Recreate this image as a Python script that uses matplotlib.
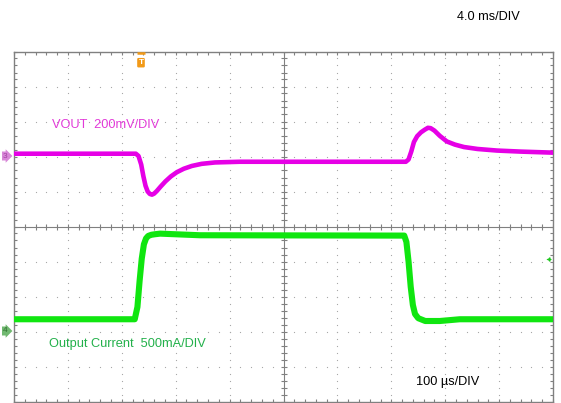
import matplotlib
matplotlib.use("Agg")
import matplotlib.pyplot as plt
import numpy as np

# scope settings
time_per_div = 100.0      # us/DIV
vout_per_div = 200.0      # mV/DIV
iout_per_div = 500.0      # mA/DIV
vout_ref_div = 1.99       # channel 3 marker (div from centre)
iout_ref_div = -2.96      # channel 4 marker

# VOUT deviation (mV)
vout_t = [0, 226, 231, 236, 240, 244, 248, 252, 256, 260, 265, 272, 281, 291,
          302, 315, 330, 348, 373, 419, 531, 727, 732, 737, 742, 748, 755, 762,
          768, 773, 780, 790, 803, 818, 835, 860, 896, 940, 1000]
vout_mv = [18, 18, 5, -44, -110, -165, -198, -212, -216, -210, -195, -170, -140,
           -112, -88, -68, -52, -40, -32, -28, -28, -28, -15, 30, 85, 118, 140,
           155, 166, 164, 150, 120, 88, 70, 56, 45, 36, 30, 24]

# output current (mA)
iout_t = [0, 224, 229, 233, 237, 241, 245, 249, 255, 262, 271, 345, 724, 728,
          732, 736, 740, 744, 750, 763, 790, 827, 1000]
iout_ma = [155, 155, 330, 700, 1020, 1225, 1310, 1345, 1362, 1370, 1378, 1355,
           1350, 1260, 980, 620, 360, 230, 170, 130, 130, 155, 155]

plt.rcParams['font.family'] = ['Liberation Sans', 'DejaVu Sans']

W, H = 561, 403
fig = plt.figure(figsize=(W / 100, H / 100), dpi=100)
ax = fig.add_axes([14 / W, 1 - 401.5 / H, 539 / W, 350 / H])
ax.set_xlim(0, 10)
ax.set_ylim(-5, 5)

grid_c = '#a8a8a8'
frame_c = '#808080'

# dotted graticule
minor = np.arange(0, 10.001, 0.2)
for g in range(1, 10):
    if g == 5:
        continue
    ax.plot([g] * len(minor), minor - 5, ls='none', marker='s', ms=0.8,
            color=grid_c, mew=0)
    ax.plot(minor, [g - 5] * len(minor), ls='none', marker='s', ms=0.8,
            color=grid_c, mew=0)

# centre cross with ticks
ax.axhline(0, color=frame_c, lw=0.8)
ax.axvline(5, color=frame_c, lw=0.8)
ax.plot(minor, np.zeros_like(minor), ls='none', marker='|', ms=4,
        color=frame_c, mew=0.8)
ax.plot(np.full_like(minor, 5), minor - 5, ls='none', marker='_', ms=4,
        color=frame_c, mew=0.8)

for s in ax.spines.values():
    s.set_color(frame_c)
    s.set_linewidth(1.0)
ax.set_xticks(minor)
ax.set_yticks(minor - 5)
ax.tick_params(direction='in', length=2.5, width=0.8, colors=frame_c,
               top=True, right=True, labelleft=False, labelbottom=False)

# traces
vt = np.array(vout_t) / time_per_div
vy = np.array(vout_mv) / vout_per_div + vout_ref_div
it = np.array(iout_t) / time_per_div
iy = np.array(iout_ma) / iout_per_div + iout_ref_div
ax.plot(vt, vy, color='#e600e6', lw=3.3, solid_joinstyle='round', zorder=5)
ax.plot(it, iy, color='#10e610', lw=4.4, solid_joinstyle='round', zorder=5)

# trigger marker
tx = (141 - 14) / 53.9
ax.text(tx, 4.68, 'T', color='white', fontsize=6, ha='center',
        va='center', fontweight='bold',
        bbox=dict(boxstyle='round,pad=0.15', fc='#f29a18', ec='none'), zorder=6)
ax.plot(tx, 4.95, marker='_', ms=6, color='#f29a18', mew=1.8,
        clip_on=False, zorder=6)
ax.plot(9.91, (227 - 260) / 35.1, marker='<', ms=3, color='#1ec81e', mew=0)
ax.plot(9.93, (227 - 260) / 35.1, marker='+', ms=3, color='#1ec81e', mew=0.8)

# channel markers
fig.text(3 / W, 1 - 156 / H, '3', fontsize=6, color='#a040a0', va='center',
         bbox=dict(boxstyle='rarrow,pad=0.12', fc='#d888d8', ec='none'))
fig.text(3 / W, 1 - 331 / H, '4', fontsize=6, color='#307030', va='center',
         bbox=dict(boxstyle='rarrow,pad=0.12', fc='#70b870', ec='none'))

# labels
fs = 9.2
fig.text(52 / W, 1 - 125 / H, 'VOUT  200mV/DIV', color='#e23ad8', fontsize=fs,
         va='center')
fig.text(49 / W, 1 - 344 / H, 'Output Current  500mA/DIV', color='#22b04a',
         fontsize=fs, va='center')
fig.text(416 / W, 1 - 382 / H, '100 µs/DIV', color='black', fontsize=fs,
         va='center')
fig.text(457 / W, 1 - 17 / H, '4.0 ms/DIV', color='black', fontsize=fs,
         va='center')

fig.savefig('out.png', dpi=100)
